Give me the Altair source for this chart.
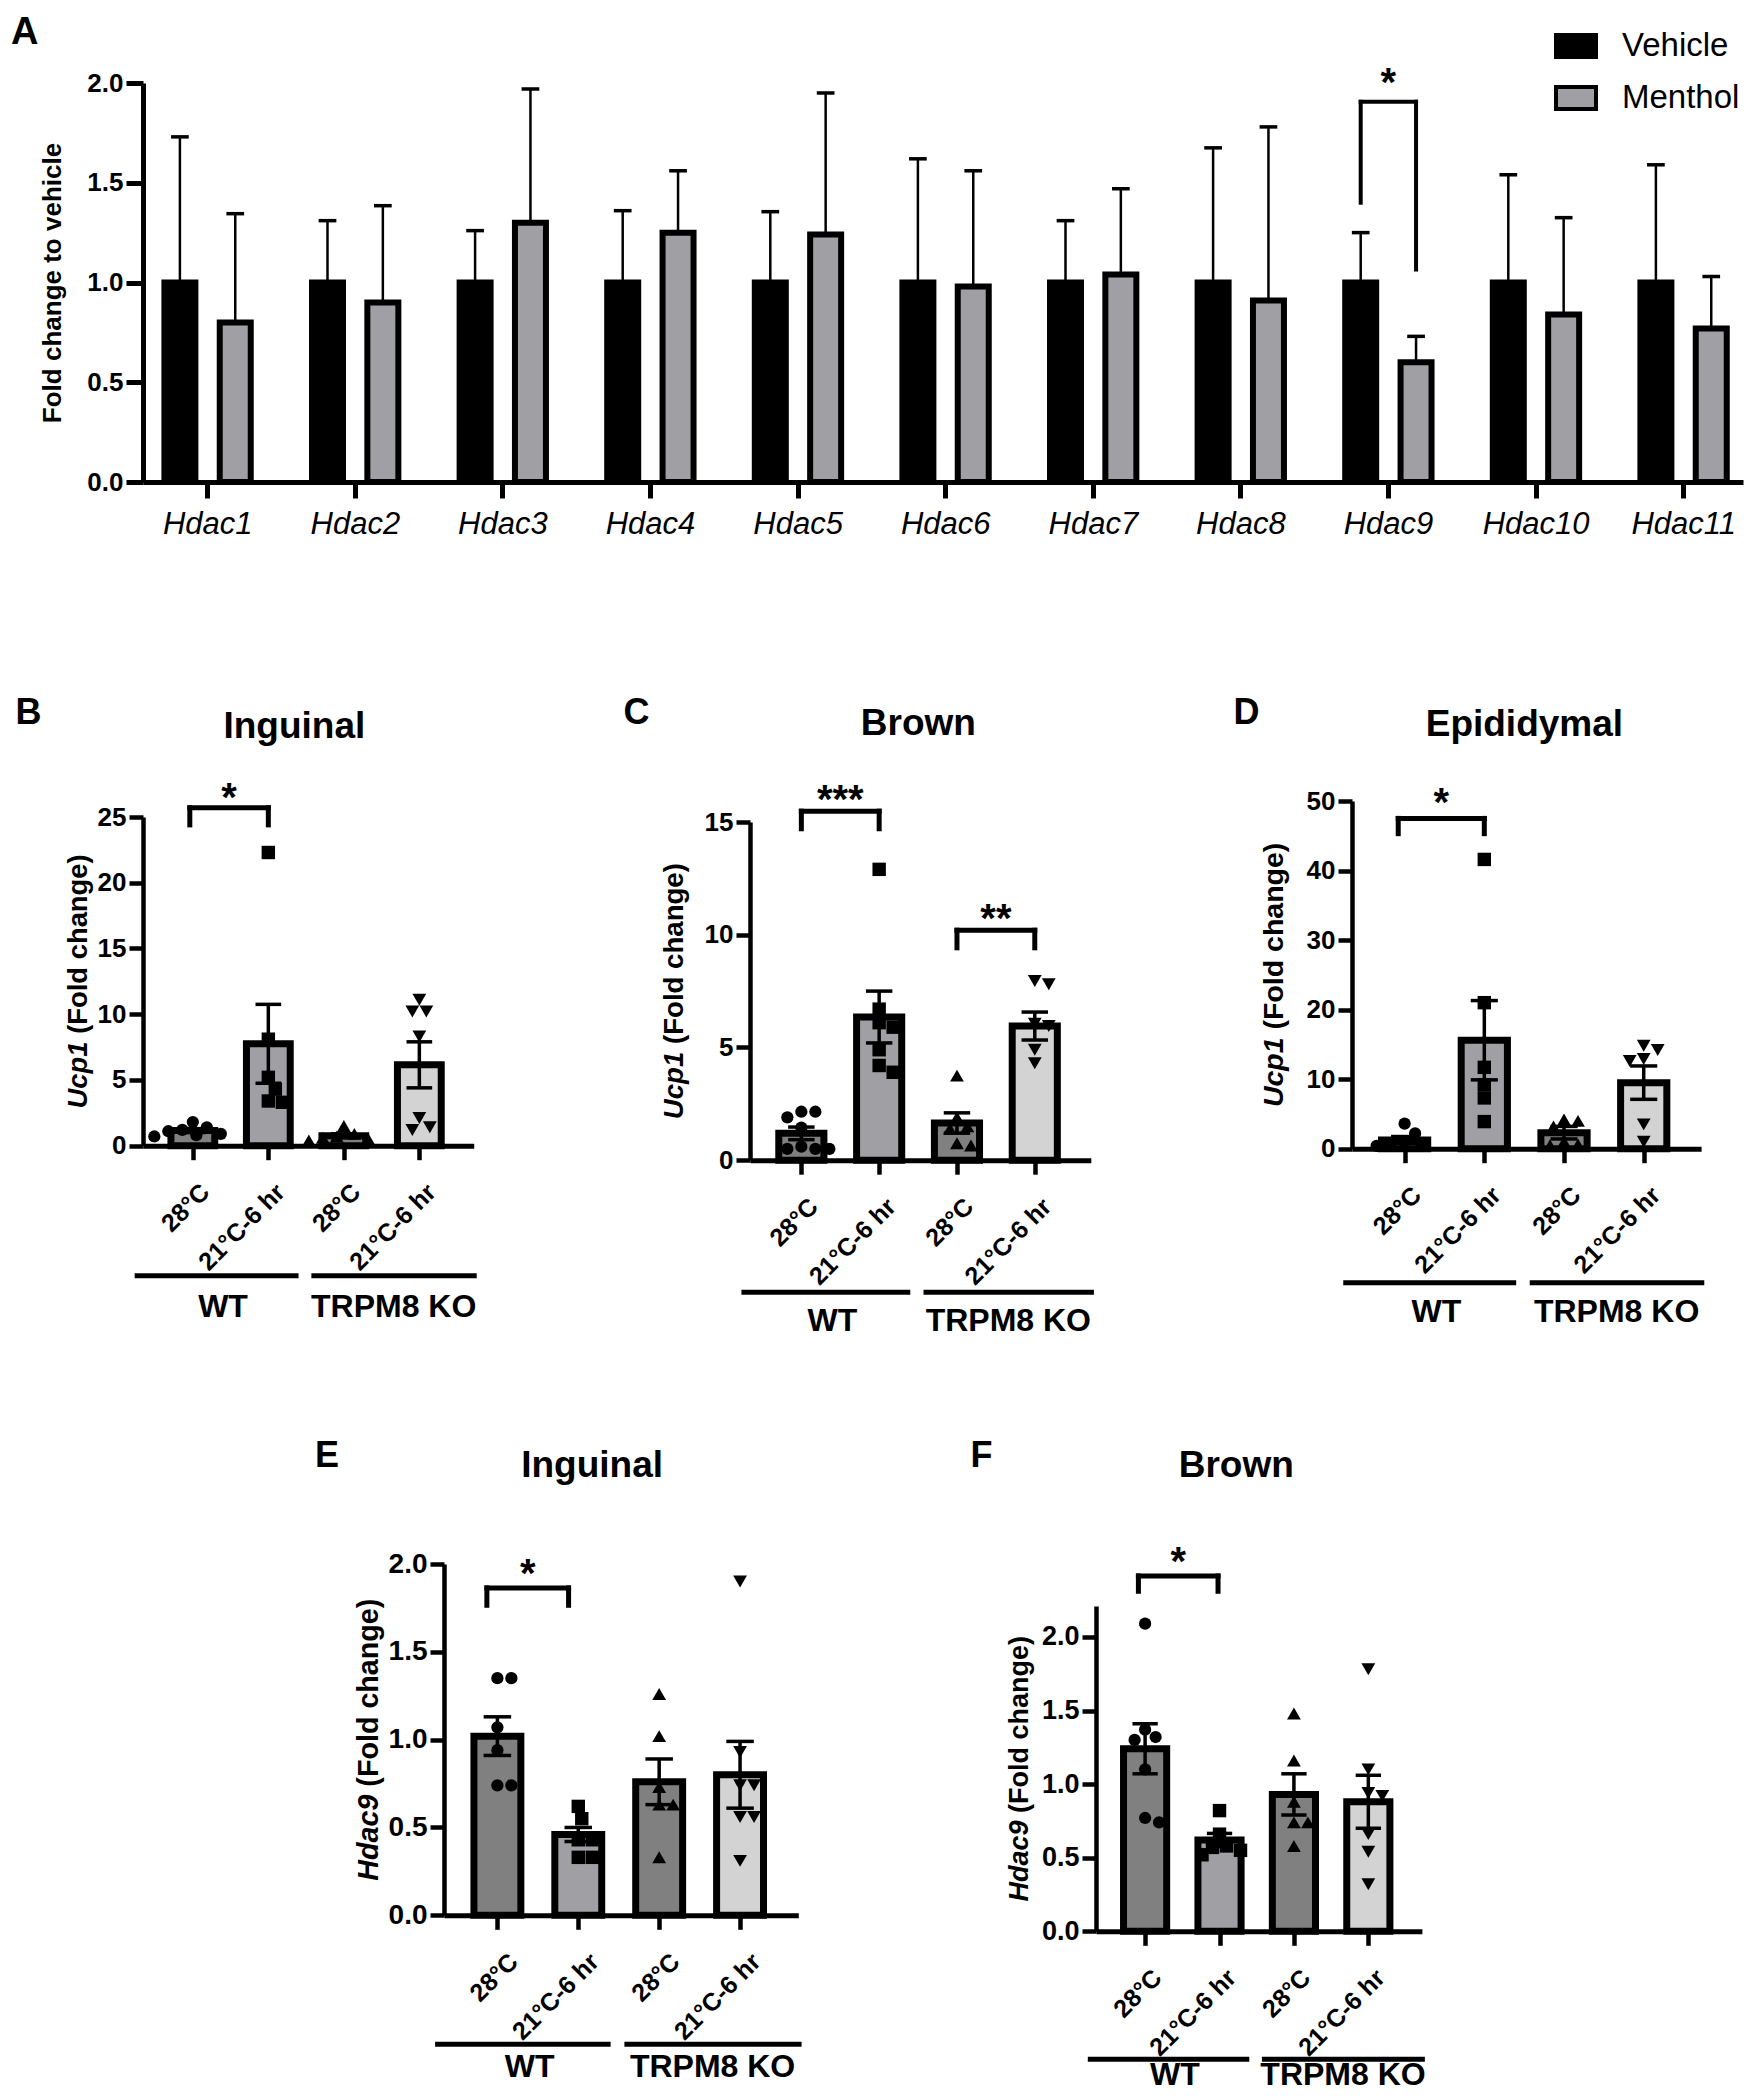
import altair as alt
import pandas as pd

FONT = "Liberation Sans, Arial, Helvetica, sans-serif"

# ======================= DATA =======================
# ---- Panel A ----
genes = ["Hdac1", "Hdac2", "Hdac3", "Hdac4", "Hdac5", "Hdac6",
         "Hdac7", "Hdac8", "Hdac9", "Hdac10", "Hdac11"]
treatments = ["Vehicle", "Menthol"]
vehicle_mean = [1.00, 1.00, 1.00, 1.00, 1.00, 1.00, 1.00, 1.00, 1.00, 1.00, 1.00]
vehicle_upper = [1.73, 1.31, 1.26, 1.36, 1.355, 1.62, 1.31, 1.675, 1.25, 1.54, 1.59]
menthol_mean = [0.80, 0.90, 1.30, 1.25, 1.24, 0.98, 1.04, 0.91, 0.60, 0.84, 0.77]
menthol_upper = [1.345, 1.385, 1.97, 1.56, 1.95, 1.56, 1.47, 1.78, 0.73, 1.325, 1.03]
sigA = {"gene": "Hdac9", "line": 1.906, "left_leg": 1.40, "right_leg": 1.065,
        "star": 2.05, "label": "*"}

# ---- Panels B-F ----
conditions = ["28°C", "21°C-6 hr", "28°C", "21°C-6 hr"]
genotypes = ["WT", "TRPM8 KO"]
group_keys = ["WT 28°C", "WT 21°C-6 hr", "TRPM8 KO 28°C", "TRPM8 KO 21°C-6 hr"]

# B  Inguinal Ucp1
B_mean = [1.15, 7.75, 0.75, 6.15]
B_sem = [0.15, 3.00, 0.15, 1.75]
B_wt28 = [1.8, 1.4, 1.2, 1.1, 0.9, 0.8, 0.7]
B_wt21 = [22.3, 8.1, 5.2, 4.3, 3.4, 3.3]
B_ko28 = [1.5, 0.9, 0.7, 0.6, 0.5, 0.4]
B_ko21 = [11.1, 10.2, 10.2, 8.3, 2.1, 1.4, 1.2]
B_sig = [{"from": -0.04, "to": 1.0, "line": 25.7, "leg": 24.4, "star": 27.2, "label": "*"}]

# C  Brown Ucp1
C_mean = [1.19, 6.35, 1.65, 5.95]
C_sem = [0.28, 1.15, 0.45, 0.62]
C_wt28 = [2.15, 2.15, 1.9, 1.45, 0.6, 0.5, 0.5, 0.5]
C_wt21 = [12.9, 6.7, 6.1, 5.9, 4.9, 4.2, 3.9]
C_ko28 = [3.75, 1.9, 1.5, 1.4, 0.75, 0.65]
C_ko21 = [7.95, 7.8, 6.05, 5.95, 4.9, 4.3]
C_sig = [{"from": 0.0, "to": 1.0, "line": 15.48, "leg": 14.7, "star": 16.4, "label": "***"},
         {"from": 2.0, "to": 3.0, "line": 10.2, "leg": 9.42, "star": 11.15, "label": "**"}]

# D  Epididymal Ucp1
D_mean = [1.25, 15.6, 2.3, 9.5]
D_sem = [0.5, 5.7, 0.9, 2.4]
D_wt28 = [3.6, 2.2, 1.0, 0.7, 0.5, 0.4]
D_wt21 = [41.6, 21.0, 11.7, 9.2, 7.3, 3.9]
D_ko28 = [4.2, 4.0, 3.2, 1.0, 0.6, 0.5]
D_ko21 = [14.8, 14.2, 12.9, 12.6, 3.5, 1.0]
D_sig = [{"from": -0.08, "to": 1.0, "line": 47.5, "leg": 45.3, "star": 51.1, "label": "*"}]

# E  Inguinal Hdac9
E_mean = [1.02, 0.46, 0.76, 0.80]
E_sem = [0.11, 0.04, 0.13, 0.19]
E_wt28 = [1.35, 1.35, 1.07, 0.94, 0.74, 0.74]
E_wt21 = [0.62, 0.55, 0.43, 0.43, 0.33, 0.33]
E_ko28 = [1.26, 1.02, 0.73, 0.63, 0.63, 0.33]
E_ko21 = [1.90, 0.93, 0.74, 0.74, 0.56, 0.56, 0.31]
E_sig = [{"from": -0.13, "to": 0.88, "line": 1.864, "leg": 1.765, "star": 2.0, "label": "*"}]

# F  Brown Hdac9
F_mean = [1.24, 0.62, 0.93, 0.88]
F_sem = [0.17, 0.045, 0.14, 0.18]
F_wt28 = [2.09, 1.37, 1.32, 1.30, 1.10, 0.77, 0.74]
F_wt21 = [0.82, 0.66, 0.58, 0.57, 0.55, 0.52]
F_ko28 = [1.48, 1.16, 0.88, 0.74, 0.74, 0.58]
F_ko21 = [1.78, 1.10, 0.94, 0.92, 0.66, 0.54, 0.32]
F_sig = [{"from": -0.09, "to": 0.98, "line": 2.414, "leg": 2.31, "star": 2.576, "label": "*"}]

# ======================= STYLE =======================
BAR_COLORS = ["#808080", "#a0a0a4", "#808080", "#d3d3d3"]
SHAPES = ["circle", "square", "triangle-up", "triangle-down"]
SHAPE_SIZES = [150, 180, 190, 190]
XDOM = [-0.66, 3.72]
GROUP_SPANS = [(-0.77, 1.40, 0.40), (1.57, 3.76, 2.66)]
OFF_A = {"Vehicle": -0.185, "Menthol": 0.19}
EM = {"Ucp1": 2.445, "Hdac9": 3.001, "space": 0.278, "(Fold change)": 6.556}


def text_layer(txt, x, y, size, align="left", weight="bold", style="normal", angle=0,
               baseline="alphabetic"):
    return alt.Chart(pd.DataFrame({"t": [txt]})).mark_text(
        align=align, baseline=baseline, fontSize=size, fontWeight=weight, angle=angle,
        fontStyle=style, font=FONT, color="black"
    ).encode(text="t:N", x=alt.value(x), y=alt.value(y))


def frame(l, r, t, b):
    # invisible diagonal rule that fixes the layout bounds of a panel
    return alt.Chart(pd.DataFrame({"a": [0]})).mark_rule(opacity=0, strokeWidth=0.5).encode(
        x=alt.value(l), x2=alt.value(r), y=alt.value(t), y2=alt.value(b))


def spacer(w, h):
    return alt.Chart(pd.DataFrame({"a": [0]})).mark_rule(opacity=0, strokeWidth=0.5).encode(
        x=alt.value(0), x2=alt.value(w), y=alt.value(0), y2=alt.value(h)
    ).properties(width=w, height=h)


def swarm(values, pxy, pxx, diam=12.5, step=3.5):
    placed = []
    offs = [0.0] * len(values)
    order = sorted(range(len(values)), key=lambda i: -values[i])
    cands = [0.0] + [s * step * m for m in range(1, 80) for s in (1, -1)]
    for i in order:
        y = values[i] * pxy
        for c in cands:
            if all((c - px) ** 2 + (y - py) ** 2 >= diam * diam for px, py in placed):
                break
        placed.append((c, y))
        offs[i] = c / pxx
    return offs


# ======================= PANEL A =======================
WA, HA = 1600, 399
xsA = alt.Scale(domain=[-0.435, -0.435 + WA / 147.6], nice=False, zero=False)
ysA = alt.Scale(domain=[0, 2], nice=False, zero=False)

rowsA = []
for i, g in enumerate(genes):
    rowsA.append(dict(gene=g, idx=i, treatment="Vehicle", mean=vehicle_mean[i], upper=vehicle_upper[i]))
    rowsA.append(dict(gene=g, idx=i, treatment="Menthol", mean=menthol_mean[i], upper=menthol_upper[i]))
dfA = pd.DataFrame(rowsA)
dfA["pos"] = dfA["idx"] + dfA["treatment"].map(OFF_A)
dfA["x1"] = dfA["pos"] - 0.105
dfA["x2"] = dfA["pos"] + 0.105
dfA["c1"] = dfA["pos"] - 0.06
dfA["c2"] = dfA["pos"] + 0.06
dfA["zero"] = 0.0

gene_expr = "[" + ",".join("'" + g + "'" for g in genes) + "][datum.value]"
axA_x = alt.Axis(values=list(range(len(genes))), labelExpr=gene_expr, title=None,
                 labelFont=FONT, labelFontSize=31, labelFontStyle="italic",
                 labelFontWeight="normal", labelPadding=11, labelAngle=0,
                 labelFlush=False, labelOverlap=False, labelBound=False,
                 tickSize=16, tickWidth=5, domainWidth=5, grid=False,
                 domainColor="black", tickColor="black", labelColor="black")
axA_y = alt.Axis(values=[0, 0.5, 1.0, 1.5, 2.0], format=".1f", title="Fold change to vehicle",
                 labelFont=FONT, labelFontSize=26, labelFontWeight="bold", labelPadding=3,
                 titleFont=FONT, titleFontSize=26, titleFontWeight="bold", titlePadding=21,
                 tickSize=17, tickWidth=5, domainWidth=5, grid=False, labelFlush=False,
                 domainColor="black", tickColor="black", labelColor="black", titleColor="black")
legA = alt.Legend(title=None, orient="none", legendX=1411, legendY=-59, direction="vertical",
                  symbolType="M-1,-0.55H1V0.55H-1Z", symbolSize=1600,
                  symbolStrokeColor="black", symbolStrokeWidth=4, symbolOpacity=1,
                  labelFont=FONT, labelFontSize=33, labelColor="black", labelOffset=24,
                  rowPadding=11, padding=0)

XA = lambda f: alt.X(f, scale=xsA, axis=axA_x)
YA = lambda f: alt.Y(f, scale=ysA, axis=axA_y)

barsA = alt.Chart(dfA).mark_bar(stroke="black", strokeWidth=6, strokeJoin="miter").encode(
    x=XA("x1:Q"), x2="x2:Q", y=YA("mean:Q"), y2="zero:Q",
    fill=alt.Fill("treatment:N", scale=alt.Scale(domain=treatments, range=["#000000", "#a0a0a4"]),
                  legend=legA))
errA = alt.Chart(dfA).mark_rule(color="black", strokeWidth=2.5).encode(
    x=XA("pos:Q"), y=YA("mean:Q"), y2="upper:Q")
capA = alt.Chart(dfA).mark_rule(color="black", strokeWidth=3.5).encode(
    x=XA("c1:Q"), x2="c2:Q", y=YA("upper:Q"))

gi = genes.index(sigA["gene"])
xl, xr = gi + OFF_A["Vehicle"], gi + OFF_A["Menthol"]
dfSigA = pd.DataFrame({
    "x": [xl, xl, xr], "x2": [xl, xr, xr],
    "y": [sigA["left_leg"], sigA["line"], sigA["line"]],
    "y2": [sigA["line"], sigA["line"], sigA["right_leg"]]})
sigA_rules = alt.Chart(dfSigA).mark_rule(color="black", strokeWidth=4, strokeCap="square").encode(
    x=XA("x:Q"), x2="x2:Q", y=YA("y:Q"), y2="y2:Q")
sigA_star = alt.Chart(pd.DataFrame({"x": [(xl + xr) / 2], "y": [sigA["star"]], "t": [sigA["label"]]})
                      ).mark_text(fontSize=40, fontWeight="bold", font=FONT, baseline="alphabetic",
                                  dy=23, color="black").encode(
    x=XA("x:Q"), y=YA("y:Q"), text="t:N")

chartA = alt.layer(
    barsA, errA, capA, sigA_rules, sigA_star,
    text_layer("A", -132, -39, 38),
    frame(-134.6, 1600.4, -74.9, 517.1),
).properties(width=WA, height=HA)


# ======================= PANELS B-F =======================
def build_panel(letter, title, gene, ymax, yticks, yfmt, means, sems, pts, sigs,
                W, H, letter_rel, title_rel, ytitle_x, ytitle_fs, tick_fs, xlab_fs, xlab_off,
                xlab_pad, line_off, label_gap, fr):
    xs = alt.Scale(domain=XDOM, nice=False, zero=False)
    ys = alt.Scale(domain=[0, ymax], nice=False, zero=False)
    pxy = H / ymax
    pxx = W / (XDOM[1] - XDOM[0])

    cond_expr = "[" + ",".join("'" + c + "'" for c in conditions) + "][datum.value]"
    ax_x = alt.Axis(values=[0, 1, 2, 3], labelExpr=cond_expr, title=None,
                    labelFont=FONT, labelFontSize=xlab_fs, labelFontWeight="bold",
                    labelAngle=315, labelAlign="right", labelBaseline="middle",
                    labelPadding=xlab_pad, labelOffset=xlab_off, labelFlush=False,
                    labelOverlap=False, labelBound=False, tickSize=14, tickWidth=4.5,
                    domainWidth=5, grid=False,
                    domainColor="black", tickColor="black", labelColor="black")
    ax_y = alt.Axis(values=yticks, format=yfmt, title=None,
                    labelFont=FONT, labelFontSize=tick_fs, labelFontWeight="bold", labelPadding=3,
                    tickSize=14, tickWidth=4.5, domainWidth=4.5, grid=False, labelFlush=False,
                    domainColor="black", tickColor="black", labelColor="black")
    X = lambda f: alt.X(f, scale=xs, axis=ax_x)
    Y = lambda f: alt.Y(f, scale=ys, axis=ax_y)

    dfb = pd.DataFrame({"pos": [0, 1, 2, 3], "key": group_keys, "mean": means, "sem": sems,
                        "color": BAR_COLORS})
    dfb["x1"] = dfb["pos"] - 0.29
    dfb["x2"] = dfb["pos"] + 0.29
    dfb["lo"] = dfb["mean"] - dfb["sem"]
    dfb["hi"] = dfb["mean"] + dfb["sem"]
    dfb["c1"] = dfb["pos"] - 0.17
    dfb["c2"] = dfb["pos"] + 0.17
    dfb["zero"] = 0.0

    bars = alt.Chart(dfb).mark_bar(stroke="black", strokeWidth=7, strokeJoin="miter").encode(
        x=X("x1:Q"), x2="x2:Q", y=Y("mean:Q"), y2="zero:Q",
        fill=alt.Fill("color:N", scale=None))

    prow = []
    for gi_, vals in enumerate(pts):
        offs = swarm(vals, pxy, pxx)
        for v, o in zip(vals, offs):
            prow.append({"key": group_keys[gi_], "value": v, "px": gi_ + o,
                         "shape": SHAPES[gi_], "sz": SHAPE_SIZES[gi_]})
    dfp = pd.DataFrame(prow)
    points = alt.Chart(dfp).mark_point(filled=True, opacity=1, color="black").encode(
        x=X("px:Q"), y=Y("value:Q"), shape=alt.Shape("shape:N", scale=None),
        size=alt.Size("sz:Q", scale=None))

    err = alt.Chart(dfb).mark_rule(color="black", strokeWidth=3.5).encode(
        x=X("pos:Q"), y=Y("lo:Q"), y2="hi:Q")
    cap_hi = alt.Chart(dfb).mark_rule(color="black", strokeWidth=3.5).encode(
        x=X("c1:Q"), x2="c2:Q", y=Y("hi:Q"))
    cap_lo = alt.Chart(dfb).mark_rule(color="black", strokeWidth=3.5).encode(
        x=X("c1:Q"), x2="c2:Q", y=Y("lo:Q"))

    seg = []
    stars = []
    for s in sigs:
        a, b = s["from"], s["to"]
        seg += [{"x": a, "x2": a, "y": s["leg"], "y2": s["line"]},
                {"x": a, "x2": b, "y": s["line"], "y2": s["line"]},
                {"x": b, "x2": b, "y": s["line"], "y2": s["leg"]}]
        stars.append({"x": (a + b) / 2, "y": s["star"], "t": s["label"]})
    sig_rules = alt.Chart(pd.DataFrame(seg)).mark_rule(color="black", strokeWidth=5,
                                                       strokeCap="square").encode(
        x=X("x:Q"), x2="x2:Q", y=Y("y:Q"), y2="y2:Q")
    sig_text = alt.Chart(pd.DataFrame(stars)).mark_text(
        fontSize=40, fontWeight="bold", font=FONT, baseline="alphabetic", dy=23, color="black").encode(
        x=X("x:Q"), y=Y("y:Q"), text="t:N")

    dfg = pd.DataFrame({"start": [g[0] for g in GROUP_SPANS], "end": [g[1] for g in GROUP_SPANS],
                        "mid": [g[2] for g in GROUP_SPANS], "label": genotypes})
    glines = alt.Chart(dfg).mark_rule(color="black", strokeWidth=5).encode(
        x=X("start:Q"), x2="end:Q", y=alt.value(H + line_off))
    glabels = alt.Chart(dfg).mark_text(fontSize=32, fontWeight="bold", font=FONT,
                                       baseline="alphabetic", align="center", color="black").encode(
        x=X("mid:Q"), y=alt.value(H + line_off + label_gap), text="label:N")

    # y-axis title: italic gene symbol + upright "(Fold change)", rotated
    gene_w = EM[gene] * ytitle_fs
    space_w = EM["space"] * ytitle_fs
    rest_w = EM["(Fold change)"] * ytitle_fs
    junction = H / 2 + (gene_w + space_w + rest_w) / 2 - gene_w
    yt_gene = text_layer(gene, ytitle_x, junction, ytitle_fs, align="right", style="italic",
                         angle=270, baseline="middle")
    yt_rest = text_layer("(Fold change)", ytitle_x, junction - space_w, ytitle_fs, align="left",
                         angle=270, baseline="middle")

    return alt.layer(
        bars, points, err, cap_hi, cap_lo, sig_rules, sig_text, glines, glabels,
        yt_gene, yt_rest,
        text_layer(letter, letter_rel[0], letter_rel[1], 36),
        text_layer(title, title_rel[0], title_rel[1], 37, align="center"),
        frame(*fr),
    ).properties(width=W, height=H)


chartB = build_panel("B", "Inguinal", "Ucp1", 25, [0, 5, 10, 15, 20, 25], "d",
                     B_mean, B_sem, [B_wt28, B_wt21, B_ko28, B_ko21], B_sig,
                     330.7, 328.7, (-127.6, -92.6), (151.4, -78.9), -64.2, 27.4, 26, 25, 12, 28,
                     130, 41, (-134.6, 417.4, -214.3, 568.7))
chartC = build_panel("C", "Brown", "Ucp1", 15, [0, 5, 10, 15], "d",
                     C_mean, C_sem, [C_wt28, C_wt21, C_ko28, C_ko21], C_sig,
                     340.8, 338.2, (-126.4, -98.3), (168.4, -86.8), -74.6, 27.6, 26, 25, 12, 28,
                     132, 39, (-188.4, 411.6, -220.0, 563.0))
chartD = build_panel("D", "Epididymal", "Ucp1", 50, [0, 10, 20, 30, 40, 50], "d",
                     D_mean, D_sem, [D_wt28, D_wt21, D_ko28, D_ko21], D_sig,
                     349.1, 347.7, (-118.4, -76.6), (172.4, -65.3), -77.7, 28.5, 26, 25, 12, 28,
                     134, 39, (-189.4, 393.6, -198.3, 584.7))
chartE = build_panel("E", "Inguinal", "Hdac9", 2.0, [0, 0.5, 1.0, 1.5, 2.0], ".1f",
                     E_mean, E_sem, [E_wt28, E_wt21, E_ko28, E_ko21], E_sig,
                     354.3, 351.3, (-128.9, -97.0), (148.1, -86.8), -75.0, 28.7, 28, 25, 16, 28,
                     129, 33, (-130.0, 457.1, -176.5, 520.5))
chartF = build_panel("F", "Brown", "Hdac9", 2.21, [0, 0.5, 1.0, 1.5, 2.0], ".1f",
                     F_mean, F_sem, [F_wt28, F_wt21, F_ko28, F_ko21], F_sig,
                     325.9, 325.3, (-125.6, -139.0), (140.3, -128.8), -75.7, 27, 27, 25, 12, 28,
                     128, 26, (-193.6, 649.4, -218.5, 478.5))


def wrap(panel):
    return alt.vconcat(spacer(1, 1), panel, spacing=0)


row2 = alt.hconcat(wrap(chartB), wrap(chartC), wrap(chartD), spacing=0)
row3 = alt.hconcat(spacer(170.3, 1), wrap(chartE), wrap(chartF), spacing=0)

chart = alt.vconcat(chartA, row2, row3, spacing=0).properties(
    padding=0
).resolve_scale(fill="independent").resolve_legend(fill="independent").configure_view(
    stroke=None
).configure_axis(grid=False).configure_text(font=FONT)

chart.save("out.html", embed_options={"renderer": "svg", "actions": False})
